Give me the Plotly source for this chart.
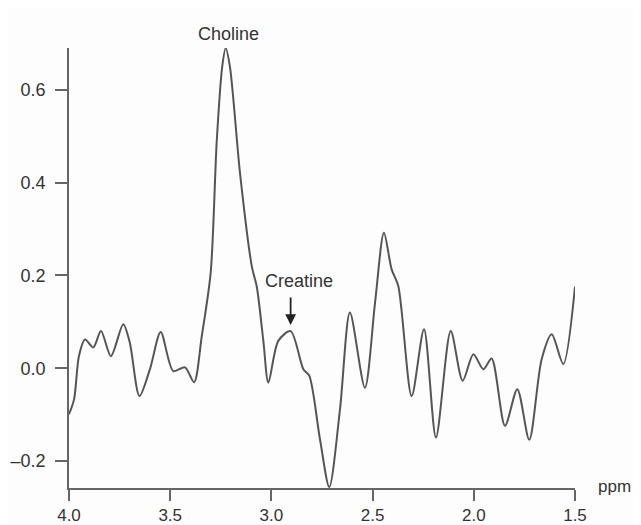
import plotly.graph_objects as go

ppm = [4.000, 3.975, 3.951, 3.921, 3.880, 3.842, 3.793, 3.732, 3.700, 3.652,
       3.600, 3.547, 3.485, 3.427, 3.382, 3.344, 3.300, 3.270, 3.243, 3.226,
       3.205, 3.155, 3.097, 3.072, 3.040, 3.015, 2.966, 2.905, 2.842, 2.813,
       2.760, 2.714, 2.661, 2.612, 2.538, 2.488, 2.444, 2.406, 2.373, 2.307,
       2.246, 2.187, 2.114, 2.055, 2.002, 1.953, 1.912, 1.846, 1.785, 1.726,
       1.665, 1.615, 1.558, 1.500]
intensity = [-0.099, -0.067, 0.026, 0.062, 0.045, 0.080, 0.026, 0.095, 0.056, -0.060,
             -0.002, 0.078, -0.006, 0.002, -0.030, 0.069, 0.206, 0.490, 0.650, 0.690,
             0.650, 0.420, 0.220, 0.175, 0.060, -0.031, 0.059, 0.080, -0.002, -0.016,
             -0.153, -0.256, -0.088, 0.120, -0.042, 0.141, 0.292, 0.213, 0.177, -0.060,
             0.084, -0.149, 0.080, -0.027, 0.030, -0.002, 0.021, -0.124, -0.045, -0.154,
             0.019, 0.073, 0.009, 0.176]

x_ticks = [4.0, 3.5, 3.0, 2.5, 2.0, 1.5]
x_tick_labels = ["4.0", "3.5", "3.0", "2.5", "2.0", "1.5"]
y_ticks = [-0.2, 0.0, 0.2, 0.4, 0.6]
y_tick_labels = ["\u20130.2", "0.0", "0.2", "0.4", "0.6"]

fig = go.Figure()
fig.add_trace(go.Scatter(
    x=ppm, y=intensity, mode="lines",
    line=dict(color="#555555", width=2, shape="spline", smoothing=0.8),
    hoverinfo="skip", showlegend=False,
))

axis_color = "#666666"
text_color = "#333333"
font_family = "Liberation Sans, Arial, sans-serif"

fig.update_layout(
    width=633, height=517,
    margin=dict(l=61, r=66, t=40, b=37, autoexpand=False),
    paper_bgcolor="#fdfdfd", plot_bgcolor="#fdfdfd",
    font=dict(family=font_family, size=18, color=text_color),
    xaxis=dict(
        range=[4.0, 1.5], tickvals=x_ticks, ticktext=x_tick_labels,
        showline=True, linecolor=axis_color, linewidth=1.5,
        ticks="outside", ticklen=11, tickwidth=1.5, tickcolor=axis_color,
        tickfont=dict(size=17),
        showgrid=False, zeroline=False, automargin=False,
    ),
    yaxis=dict(
        range=[-0.258, 0.69], tickvals=y_ticks, ticktext=y_tick_labels,
        showline=True, linecolor=axis_color, linewidth=1.5,
        ticks="outside", ticklen=12, tickwidth=1.5, tickcolor=axis_color,
        ticklabelstandoff=6,
        showgrid=False, zeroline=False, automargin=False,
    ),
    annotations=[
        dict(text="Choline", x=3.226, y=0.69, xref="x", yref="y",
             showarrow=False, yanchor="bottom", yshift=2, xshift=3,
             font=dict(size=18, color=text_color)),
        dict(text="Creatine", x=2.905, y=0.08, xref="x", yref="y",
             showarrow=False, yanchor="bottom", yshift=38, xshift=8,
             font=dict(size=18, color=text_color)),
        dict(text="", x=2.905, y=0.08, xref="x", yref="y",
             showarrow=True, ax=0, ay=-35, standoff=6,
             arrowhead=2, arrowsize=1.2, arrowwidth=1.8, arrowcolor="#222222"),
        dict(text="ppm", x=1.0, y=0, xref="paper", yref="paper",
             showarrow=False, xanchor="left", yanchor="middle", xshift=21, yshift=2,
             font=dict(size=17, color=text_color)),
    ],
)

fig.write_html("out.html")
